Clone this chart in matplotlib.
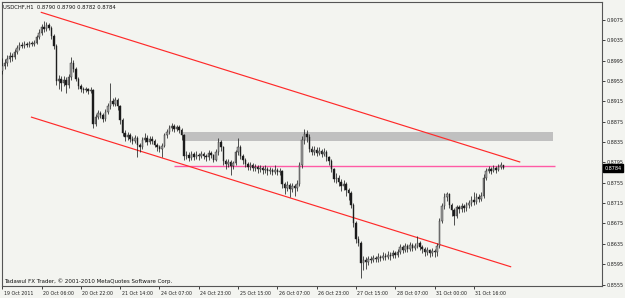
import matplotlib
matplotlib.use('Agg')
import matplotlib.pyplot as plt
import matplotlib.transforms as mtrans
from matplotlib.patches import Rectangle

# ---- data (prices in pips, i.e. price * 10000) ----
first_open = 8975
close_pips = [
    8985, 8990, 8998, 9005, 9002, 9012, 9020, 9026, 9024, 9028,
    9025, 9029, 9027, 9030, 9042, 9050, 9062, 9058, 9066, 9060,
    9044, 9024, 8955, 8960, 8952, 8958, 8948, 8962, 8990, 8978,
    8960, 8946, 8940, 8937, 8939, 8936, 8938, 8870, 8885, 8892,
    8888, 8880, 8895, 8906, 8915, 8910, 8918, 8905, 8878, 8853,
    8845, 8849, 8841, 8838, 8843, 8830, 8826, 8840, 8844, 8836,
    8842, 8838, 8830, 8826, 8822, 8828, 8848, 8855, 8862, 8866,
    8860, 8864, 8858, 8848, 8808, 8810, 8804, 8812, 8806, 8810,
    8807, 8812, 8808, 8805, 8814, 8809, 8800, 8815, 8835, 8825,
    8798, 8792, 8796, 8788, 8793, 8815, 8825, 8808, 8800, 8792,
    8786, 8790, 8784, 8787, 8782, 8785, 8780, 8783, 8778, 8781,
    8777, 8780, 8776, 8778, 8752, 8745, 8750, 8742, 8748, 8744,
    8752, 8790, 8840, 8850, 8845, 8822, 8816, 8820, 8814, 8818,
    8812, 8816, 8805, 8798, 8782, 8762, 8765, 8756, 8748, 8752,
    8740, 8735, 8712, 8675, 8645, 8636, 8598, 8603, 8600, 8606,
    8604, 8608, 8605, 8610, 8607, 8612, 8609, 8614, 8611, 8616,
    8614, 8619, 8628, 8622, 8630, 8625, 8632, 8627, 8630, 8636,
    8628, 8624, 8619, 8622, 8616, 8620, 8618, 8630, 8680, 8710,
    8728, 8732, 8712, 8702, 8690, 8708, 8704, 8710, 8706, 8712,
    8716, 8722, 8718, 8728, 8724, 8730, 8765, 8778, 8782, 8779,
    8784, 8781, 8786, 8790, 8784,
]
high_pips = [
    9000, 8998, 9006, 9012, 9010, 9018, 9025, 9032, 9031, 9034,
    9032, 9033, 9034, 9036, 9046, 9058, 9068, 9073, 9071, 9070,
    9063, 9047, 9028, 8966, 8965, 8964, 8962, 8968, 9002, 8996,
    8982, 8963, 8950, 8944, 8943, 8942, 8944, 8940, 8890, 8898,
    8896, 8892, 8900, 8912, 8951, 8922, 8924, 8921, 8908, 8882,
    8858, 8855, 8853, 8846, 8849, 8846, 8834, 8845, 8852, 8848,
    8847, 8846, 8841, 8834, 8830, 8833, 8852, 8860, 8868, 8872,
    8870, 8869, 8868, 8862, 8851, 8818, 8815, 8818, 8816, 8817,
    8814, 8818, 8815, 8812, 8820, 8818, 8812, 8822, 8843, 8840,
    8828, 8802, 8802, 8800, 8798, 8820, 8843, 8830, 8812, 8804,
    8796, 8795, 8793, 8792, 8790, 8790, 8788, 8789, 8786, 8787,
    8785, 8790, 8784, 8785, 8781, 8756, 8758, 8755, 8754, 8752,
    8760, 8796, 8847, 8860, 8858, 8850, 8828, 8828, 8825, 8826,
    8822, 8824, 8820, 8808, 8802, 8785, 8775, 8770, 8762, 8760,
    8756, 8745, 8738, 8716, 8680, 8650, 8640, 8612, 8610, 8612,
    8611, 8614, 8612, 8616, 8614, 8618, 8616, 8620, 8618, 8622,
    8621, 8625, 8634, 8632, 8636, 8634, 8638, 8636, 8637, 8650,
    8640, 8632, 8628, 8628, 8625, 8626, 8624, 8636, 8686, 8716,
    8735, 8737, 8735, 8716, 8706, 8712, 8712, 8716, 8714, 8718,
    8722, 8730, 8737, 8734, 8733, 8736, 8772, 8784, 8788, 8786,
    8790, 8788, 8792, 8796, 8790,
]
low_pips = [
    8968, 8978, 8985, 8992, 8995, 8998, 9008, 9016, 9019, 9020,
    9021, 9022, 9023, 9024, 9027, 9038, 9046, 9052, 9054, 9055,
    9038, 9018, 8948, 8940, 8935, 8945, 8932, 8942, 8958, 8972,
    8955, 8940, 8934, 8932, 8933, 8930, 8932, 8862, 8866, 8880,
    8882, 8874, 8876, 8890, 8900, 8905, 8906, 8899, 8870, 8846,
    8838, 8840, 8835, 8832, 8834, 8806, 8815, 8822, 8836, 8830,
    8832, 8832, 8825, 8818, 8815, 8806, 8825, 8844, 8850, 8857,
    8855, 8856, 8852, 8840, 8800, 8802, 8798, 8800, 8800, 8802,
    8800, 8803, 8802, 8797, 8800, 8803, 8795, 8797, 8810, 8818,
    8790, 8782, 8786, 8770, 8782, 8790, 8810, 8802, 8792, 8786,
    8780, 8780, 8778, 8779, 8775, 8777, 8773, 8774, 8770, 8772,
    8770, 8772, 8770, 8770, 8745, 8733, 8738, 8727, 8736, 8730,
    8738, 8748, 8785, 8832, 8835, 8815, 8810, 8810, 8808, 8810,
    8806, 8808, 8798, 8790, 8776, 8756, 8755, 8748, 8738, 8740,
    8730, 8722, 8705, 8668, 8636, 8630, 8568, 8583, 8585, 8594,
    8598, 8600, 8599, 8600, 8601, 8603, 8603, 8605, 8604, 8607,
    8608, 8610, 8615, 8616, 8618, 8618, 8620, 8621, 8622, 8626,
    8622, 8617, 8612, 8614, 8609, 8612, 8610, 8612, 8626, 8675,
    8704, 8720, 8705, 8690, 8672, 8685, 8696, 8698, 8698, 8700,
    8706, 8710, 8712, 8714, 8718, 8719, 8726, 8760, 8774, 8772,
    8776, 8775, 8778, 8782, 8782,
]
tick_pos = [0, 16, 32, 48, 64, 80, 96, 112, 128, 144, 160, 176, 192]
tick_labels = ['19 Oct 2011', '20 Oct 06:00', '20 Oct 22:00', '21 Oct 14:00',
               '24 Oct 07:00', '24 Oct 23:00', '25 Oct 15:00', '26 Oct 07:00',
               '26 Oct 23:00', '27 Oct 15:00', '28 Oct 07:00', '31 Oct 00:00',
               '31 Oct 16:00']
price_ticks = [0.9075, 0.9035, 0.8995, 0.8955, 0.8915, 0.8875, 0.8835,
               0.8795, 0.8755, 0.8715, 0.8675, 0.8635, 0.8595, 0.8555]
# channel lines (bar index, price)
upper_line_x = [15.9, 210.7]
upper_line_y = [0.9090, 0.8796]
lower_line_x = [11.9, 207.0]
lower_line_y = [0.8884, 0.8590]
level_price = 0.8788
level_x = [69.8, 224.9]
zone_x = [73.8, 224.1]
zone_y = [0.8837, 0.8855]
header = 'USDCHF,H1  0.8790 0.8790 0.8782 0.8784'
footer = 'Tadawul FX Trader, \u00a9 2001-2010 MetaQuotes Software Corp.'
last_price = 0.8784

# ---- derived ----
closes = [c / 10000 for c in close_pips]
highs = [h / 10000 for h in high_pips]
lows = [l / 10000 for l in low_pips]
opens = [first_open / 10000] + closes[:-1]
idx = list(range(len(closes)))

plt.rcParams['font.family'] = ['DejaVu Sans']
W, H = 625, 298
bg = '#f3f4f0'
fig = plt.figure(figsize=(W / 100, H / 100), dpi=100, facecolor=bg)
ax = fig.add_axes([2 / W, 12 / H, 600 / W, 284 / H], facecolor=bg)
ax.set_xlim(-0.1, 244.2)
ax.set_ylim(0.85521, 0.91104)

# zone
ax.add_patch(Rectangle((zone_x[0], zone_y[0]), zone_x[1] - zone_x[0],
                       zone_y[1] - zone_y[0], facecolor='#c0c0c0',
                       edgecolor='none', zorder=1))
# level line
ax.hlines(level_price, level_x[0], level_x[1], color='#ff5aa5', lw=1.0, zorder=2)
# channel
ax.plot(upper_line_x, upper_line_y, color='#ff2a2a', lw=0.85, zorder=2)
ax.plot(lower_line_x, lower_line_y, color='#ff2a2a', lw=0.85, zorder=2)

# candles
ax.vlines(idx, lows, highs, color='#222222', lw=0.55, zorder=3)
bottoms = [min(o, c) for o, c in zip(opens, closes)]
heights = [max(abs(c - o), 0.00005) for o, c in zip(opens, closes)]
cols = ['#a0a0a0' if c >= o else '#1a1a1a' for o, c in zip(opens, closes)]
ax.bar(idx, heights, bottom=bottoms, width=0.6, color=cols,
       edgecolor='#222222', linewidth=0.3, zorder=4)

# axes styling
for s in ax.spines.values():
    s.set_color('#555555')
    s.set_linewidth(0.8)
ax.yaxis.tick_right()
ax.set_yticks(price_ticks)
ax.set_yticklabels(['%.4f' % p for p in price_ticks])
ax.tick_params(axis='y', length=2, width=0.6, pad=1.2, labelsize=3.5,
               colors='#222222')
ax.set_xticks(tick_pos)
ax.set_xticklabels(tick_labels, ha='left')
ax.tick_params(axis='x', length=2.5, width=0.6, pad=1.2, labelsize=3.4,
               colors='#222222')
off = mtrans.ScaledTranslation(1.5 / 100, 0, fig.dpi_scale_trans)
for lab in ax.get_xticklabels():
    lab.set_transform(lab.get_transform() + off)

# current price label
tr = mtrans.blended_transform_factory(ax.transAxes, ax.transData)
ax.text(1.004, last_price, '%.4f' % last_price, transform=tr, ha='left',
        va='center', fontsize=3.5, color='white', clip_on=False, zorder=10,
        bbox=dict(boxstyle='square,pad=0.35', facecolor='black',
                  edgecolor='black'))

ax.text(0.002, 0.98, header, transform=ax.transAxes, ha='left', va='center',
        fontsize=3.8, color='#111111')
ax.text(0.003, 0.017, footer, transform=ax.transAxes, ha='left', va='center',
        fontsize=4.0, color='#111111')

fig.savefig('out.png', dpi=100, facecolor=bg)
